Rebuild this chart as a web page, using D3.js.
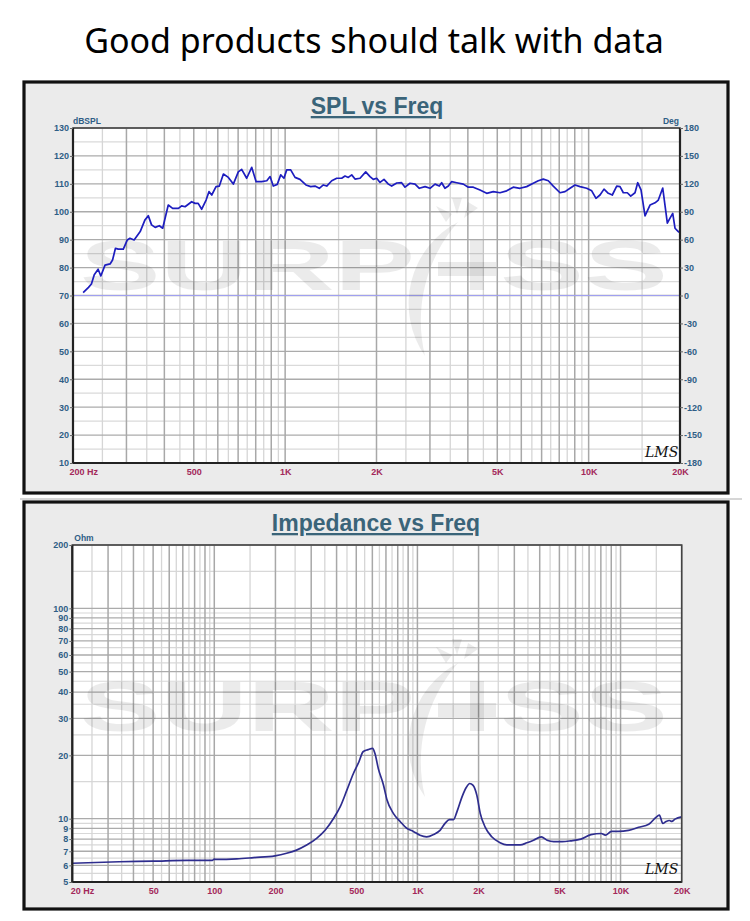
<!DOCTYPE html>
<html><head><meta charset="utf-8">
<script src="https://cdn.jsdelivr.net/npm/d3@7/dist/d3.min.js"></script>
<style>body{margin:0;background:#fff}svg{display:block}</style>
</head><body>
<script>
// ---------------- DATA ----------------
const headerText = "Good products should talk with data";

const splFreq = [216,225,230,235,242,247,255,265,270,276,282,293,302,308,318,333,345,354,363,373,385,395,412,426,445,456,468,492,505,517,531,549,561,573,592,607,626,650,675,701,719,747,776,802,837,870,892,914,942,967,991,1012,1043,1078,1119,1171,1214,1254,1296,1336,1371,1424,1479,1536,1575,1615,1657,1699,1765,1843,1904,1952,2003,2054,2117,2188,2244,2332,2420,2483,2579,2680,2768,2891,3002,3118,3220,3279,3362,3449,3539,3676,3864,4013,4169,4386,4614,4851,5104,5370,5645,5939,6249,6570,6825,7088,7364,7647,8048,8361,8684,9017,9366,9853,10236,10574,10900,11238,11610,11967,12373,12688,13010,13411,13761,14216,14510,14880,15339,15650,15932,16548,16969,17545,18168,18543,18926,19257,19744,20000];
const splDb = [71,72.9,74.1,77.4,79.4,77,80.9,81.3,82.7,86.9,86.6,86.6,89.9,90.5,89.9,92.9,97,98.6,95.3,94.4,95,94.1,102.4,101.2,101.2,102.1,101.8,103.6,103,103,100.9,104.2,107.2,106,109,109.2,113.5,112.3,109.9,114.3,115.2,112,115.9,110.8,110.8,111.1,112.6,109.2,109.8,113.2,112,115,115,112.3,111.6,109.6,109,109.2,108.4,109.6,109.2,111.1,112,112,112.8,112.3,113.2,111.7,112,114.3,112.6,111.6,112,110.5,111.6,109.9,109.2,110.3,110.4,108.8,110.2,109.9,108.4,109,108.4,109.9,109.2,110.4,108.4,109.2,110.8,110.4,109.9,108.8,108.8,107.8,106.6,107.2,106.8,107.5,108.8,108.4,109,110.2,111.1,111.7,111.1,109.2,106.8,107.2,108.4,109.6,109,108.4,107.5,104.8,106,108.1,106.6,106,109.2,109,106.8,106.8,105.6,106.8,110.4,107.8,98.5,100.6,102.4,103.2,104.2,108.5,95.9,97.7,99.4,94.1,92.9,92.5];

const splXTicks = [200,500,1000,2000,5000,10000,20000];
const splXLabels = ["200  Hz","500","1K","2K","5K","10K","20K"];
const splYTicks = [130,120,110,100,90,80,70,60,50,40,30,20,10];
const degTicks = [180,150,120,90,60,30,0,-30,-60,-90,-120,-150,-180];

const impFreq = [20,34,50,73,98,100,102,129,156,199,227,254,285,319,352,387,417,450,484,515,540,572,602,618,642,680,708,761,822,886,955,1030,1110,1198,1292,1368,1438,1506,1566,1658,1742,1808,1880,1962,2038,2158,2322,2552,2754,3206,3458,3730,4072,4350,4692,5164,5680,6376,7158,8034,8418,9022,9744,10936,12272,13772,14870,15532,16140,16760,17390,17880,18540,20000];
const impOhm = [6.14,6.24,6.28,6.34,6.34,6.42,6.40,6.44,6.53,6.66,6.85,7.09,7.49,8.06,8.83,10.05,11.4,13.7,16.4,18.6,20.8,21.3,21.6,20.4,17.3,14.5,12.3,10.6,9.7,9.0,8.7,8.34,8.2,8.4,8.8,9.5,9.9,9.9,10.8,12.7,14.1,14.7,14.4,12.9,10.6,9.1,8.2,7.68,7.5,7.5,7.68,7.9,8.2,7.9,7.78,7.78,7.85,8.0,8.4,8.5,8.35,8.7,8.7,8.8,9.1,9.4,10.1,10.4,9.5,9.7,9.8,9.7,9.95,10.2];

const impXTicks = [20,50,100,200,500,1000,2000,5000,10000,20000];
const impXLabels = ["20  Hz","50","100","200","500","1K","2K","5K","10K","20K"];
const impYTicks = [200,100,90,80,70,60,50,40,30,20,10,9,8,7,6,5];

// ---------------- DRAW ----------------
const W = 750, H = 921;
const svg = d3.select("body").append("svg").attr("width", W).attr("height", H);
svg.append("rect").attr("width", W).attr("height", H).attr("fill", "#fff");

svg.append("text").attr("x", 374).attr("y", 53).attr("text-anchor", "middle")
  .attr("font-family", "Noto Sans, Liberation Sans, sans-serif").attr("font-size", 34)
  .attr("fill", "#000").text(headerText);

const TITLE_C = "#3a6479", YLAB_C = "#2f5e86", XLAB_C = "#a3285a";
const FONT = "Liberation Sans, Arial, sans-serif";

// log grid values: multiples of 0.5*10^k
function logGrid(lo, hi) {
  const out = [];
  for (let k = Math.floor(Math.log10(lo)); k <= Math.ceil(Math.log10(hi)); k++) {
    const d = Math.pow(10, k);
    for (let m = 1; m < 10; m += 0.5) {
      const v = m * d;
      if (v >= lo * 0.999 && v <= hi * 1.001) out.push({v, major: Number.isInteger(m)});
    }
  }
  return out;
}

function frame(y0, y1) {
  svg.append("rect").attr("x", 24).attr("y", y0).attr("width", 704).attr("height", y1 - y0)
    .attr("fill", "#ebebeb").attr("stroke", "#111").attr("stroke-width", 3.2);
}

function watermark(g) {
  const c = "#000", op = 0.08;
  g.append("text").attr("x", 80).attr("y", 290).attr("font-family", FONT).attr("font-weight", "bold")
    .attr("font-size", 70).attr("textLength", 335).attr("lengthAdjust", "spacingAndGlyphs")
    .attr("fill", c).attr("fill-opacity", op).text("SURP");
  g.append("text").attr("x", 500).attr("y", 290).attr("font-family", FONT).attr("font-weight", "bold")
    .attr("font-size", 70).attr("textLength", 168).attr("lengthAdjust", "spacingAndGlyphs")
    .attr("fill", c).attr("fill-opacity", op).text("SS");
  // crescent
  g.append("path").attr("d", "M458,222 A92,92 0 0 0 425,356 A150,150 0 0 1 458,222 Z")
    .attr("fill", c).attr("fill-opacity", op);
  // rays
  g.append("path").attr("d", "M436,206 L452,214 L446,222 Z M452,198 L462,198 L457,214 Z M468,202 L478,208 L464,218 Z")
    .attr("fill", c).attr("fill-opacity", op);
  // "4"-like inner strokes
  g.append("rect").attr("x", 470).attr("y", 240).attr("width", 14).attr("height", 50).attr("fill", c).attr("fill-opacity", op);
  g.append("rect").attr("x", 438).attr("y", 262).attr("width", 58).attr("height", 14).attr("fill", c).attr("fill-opacity", op);
}

function lms(x, y) {
  svg.append("text").attr("x", x).attr("y", y).attr("font-family", "DejaVu Serif, serif")
    .attr("font-style", "italic").attr("font-size", 14).attr("fill", "#111")
    .text("LMS");
}

// ================= SPL CHART =================
frame(82, 493);
svg.append("line").attr("x1", 20).attr("x2", 742).attr("y1", 499).attr("y2", 499).attr("stroke", "#c8c8c8").attr("stroke-width", 1.5);

const sp = {l: 73, r: 680, t: 128, b: 463};
const xS = d3.scaleLog().domain([200, 20000]).range([sp.l, sp.r]);
const yS = d3.scaleLinear().domain([10, 130]).range([sp.b, sp.t]);
const yDeg = d3.scaleLinear().domain([-180, 180]).range([sp.b, sp.t]);

svg.append("rect").attr("x", sp.l).attr("y", sp.t).attr("width", sp.r - sp.l).attr("height", sp.b - sp.t).attr("fill", "#fff");

const gS = svg.append("g");
d3.range(15, 130, 10).forEach(v => gS.append("line").attr("x1", sp.l).attr("x2", sp.r).attr("y1", yS(v)).attr("y2", yS(v)).attr("stroke", "#dadada").attr("stroke-width", 1.2));
logGrid(200, 20000).filter(d => !d.major).forEach(d => gS.append("line").attr("x1", xS(d.v)).attr("x2", xS(d.v)).attr("y1", sp.t).attr("y2", sp.b).attr("stroke", "#d6d6d6").attr("stroke-width", 1.3));
splYTicks.forEach(v => gS.append("line").attr("x1", sp.l).attr("x2", sp.r).attr("y1", yS(v)).attr("y2", yS(v)).attr("stroke", "#ababab").attr("stroke-width", 1.3));
logGrid(200, 20000).filter(d => d.major).forEach(d => gS.append("line").attr("x1", xS(d.v)).attr("x2", xS(d.v)).attr("y1", sp.t).attr("y2", sp.b).attr("stroke", "#a8a8a8").attr("stroke-width", 1.5));
gS.append("line").attr("x1", sp.l).attr("x2", sp.r).attr("y1", yDeg(0)).attr("y2", yDeg(0)).attr("stroke", "#a0a0f0").attr("stroke-width", 1.2);

watermark(svg.append("g"));

const splLine = d3.line().x((d, i) => xS(splFreq[i])).y(d => yS(d));
svg.append("path").attr("d", splLine(splDb)).attr("fill", "none").attr("stroke", "#1d1dbf").attr("stroke-width", 1.7).attr("stroke-linejoin", "round");

svg.append("rect").attr("x", sp.l).attr("y", sp.t).attr("width", sp.r - sp.l).attr("height", sp.b - sp.t).attr("fill", "none").attr("stroke", "#444").attr("stroke-width", 1.6);
svg.append("line").attr("x1", sp.l).attr("x2", sp.r).attr("y1", sp.b).attr("y2", sp.b).attr("stroke", "#222").attr("stroke-width", 2.2);
svg.append("line").attr("x1", sp.l).attr("x2", sp.l).attr("y1", sp.t).attr("y2", sp.b).attr("stroke", "#222").attr("stroke-width", 2.2);
svg.append("line").attr("x1", sp.r).attr("x2", sp.r).attr("y1", sp.t).attr("y2", sp.b).attr("stroke", "#222").attr("stroke-width", 2.2);

const axL = svg.append("g").attr("transform", `translate(${sp.l},0)`)
  .call(d3.axisLeft(yS).tickValues(splYTicks).tickSize(3).tickPadding(1).tickFormat(d3.format("d")));
const axR = svg.append("g").attr("transform", `translate(${sp.r},0)`)
  .call(d3.axisRight(yDeg).tickValues(degTicks).tickSize(3).tickPadding(1).tickFormat(d => d < 0 ? "-" + Math.abs(d) : d));
const axB = svg.append("g").attr("transform", `translate(0,${sp.b})`)
  .call(d3.axisBottom(xS).tickValues(splXTicks).tickSize(0).tickPadding(6).tickFormat((d, i) => splXLabels[i]));
[axL, axR].forEach(a => { a.select(".domain").remove(); a.selectAll("line").attr("stroke", "#666");
  a.selectAll("text").attr("font-family", FONT).attr("font-weight", "bold").attr("font-size", 9).attr("fill", YLAB_C); });
axB.select(".domain").remove();
axB.selectAll("text").attr("font-family", FONT).attr("font-weight", "bold").attr("font-size", 9).attr("fill", XLAB_C);
axB.selectAll(".tick").filter((d, i) => i === 0).select("text").attr("text-anchor", "start").attr("dx", -4);

svg.append("text").attr("x", sp.l).attr("y", 123.5).attr("font-family", FONT).attr("font-weight", "bold").attr("font-size", 8.5).attr("fill", YLAB_C).text("dBSPL");
svg.append("text").attr("x", sp.r - 1).attr("y", 123.5).attr("text-anchor", "end").attr("font-family", FONT).attr("font-weight", "bold").attr("font-size", 8.5).attr("fill", YLAB_C).text("Deg");

svg.append("text").attr("x", 377).attr("y", 114).attr("text-anchor", "middle").attr("font-family", FONT).attr("font-weight", "bold").attr("font-size", 23).attr("fill", TITLE_C).attr("text-decoration", "underline").text("SPL vs Freq");
lms(645, 457);

// ================= IMPEDANCE CHART =================
frame(502, 909);
const ip = {l: 72.3, r: 681.7, t: 545, b: 882};
const xI = d3.scaleLog().domain([20, 20000]).range([ip.l, ip.r]);
const yI = d3.scaleLog().domain([5, 200]).range([ip.b, ip.t]);

svg.append("rect").attr("x", ip.l).attr("y", ip.t).attr("width", ip.r - ip.l).attr("height", ip.b - ip.t).attr("fill", "#fff");
const gI = svg.append("g");
const yGridI = logGrid(5, 200), xGridI = logGrid(20, 20000);
yGridI.filter(d => !d.major).forEach(d => gI.append("line").attr("x1", ip.l).attr("x2", ip.r).attr("y1", yI(d.v)).attr("y2", yI(d.v)).attr("stroke", "#d8d8d8").attr("stroke-width", 1.2));
xGridI.filter(d => !d.major).forEach(d => gI.append("line").attr("x1", xI(d.v)).attr("x2", xI(d.v)).attr("y1", ip.t).attr("y2", ip.b).attr("stroke", "#d6d6d6").attr("stroke-width", 1.3));
yGridI.filter(d => d.major).forEach(d => gI.append("line").attr("x1", ip.l).attr("x2", ip.r).attr("y1", yI(d.v)).attr("y2", yI(d.v)).attr("stroke", "#ababab").attr("stroke-width", 1.3));
xGridI.filter(d => d.major).forEach(d => gI.append("line").attr("x1", xI(d.v)).attr("x2", xI(d.v)).attr("y1", ip.t).attr("y2", ip.b).attr("stroke", "#a8a8a8").attr("stroke-width", 1.5));

watermark(svg.append("g").attr("transform", "translate(0,441)"));

const impLine = d3.line().x((d, i) => xI(impFreq[i])).y(d => yI(d)).curve(d3.curveMonotoneX);
svg.append("path").attr("d", impLine(impOhm)).attr("fill", "none").attr("stroke", "#2e2d8e").attr("stroke-width", 1.7);

svg.append("rect").attr("x", ip.l).attr("y", ip.t).attr("width", ip.r - ip.l).attr("height", ip.b - ip.t).attr("fill", "none").attr("stroke", "#444").attr("stroke-width", 1.6);
svg.append("line").attr("x1", ip.l).attr("x2", ip.r).attr("y1", ip.b).attr("y2", ip.b).attr("stroke", "#222").attr("stroke-width", 2.2);
svg.append("line").attr("x1", ip.l).attr("x2", ip.l).attr("y1", ip.t).attr("y2", ip.b).attr("stroke", "#222").attr("stroke-width", 2.2);

const aiL = svg.append("g").attr("transform", `translate(${ip.l},0)`)
  .call(d3.axisLeft(yI).tickValues(impYTicks).tickSize(3).tickPadding(1).tickFormat(d3.format("d")));
const aiB = svg.append("g").attr("transform", `translate(0,${ip.b})`)
  .call(d3.axisBottom(xI).tickValues(impXTicks).tickSize(0).tickPadding(6).tickFormat((d, i) => impXLabels[i]));
aiL.select(".domain").remove(); aiL.selectAll("line").attr("stroke", "#666");
aiL.selectAll("text").attr("font-family", FONT).attr("font-weight", "bold").attr("font-size", 9).attr("fill", YLAB_C);
aiB.select(".domain").remove();
aiB.selectAll("text").attr("font-family", FONT).attr("font-weight", "bold").attr("font-size", 9).attr("fill", XLAB_C);
aiB.selectAll(".tick").filter((d, i) => i === 0).select("text").attr("text-anchor", "start").attr("dx", -2);

svg.append("text").attr("x", ip.l + 2).attr("y", 541).attr("font-family", FONT).attr("font-weight", "bold").attr("font-size", 8.5).attr("fill", YLAB_C).text("Ohm");
svg.append("text").attr("x", 376).attr("y", 531).attr("text-anchor", "middle").attr("font-family", FONT).attr("font-weight", "bold").attr("font-size", 23).attr("fill", TITLE_C).attr("text-decoration", "underline").text("Impedance vs Freq");
lms(645, 874);
</script>
</body></html>
